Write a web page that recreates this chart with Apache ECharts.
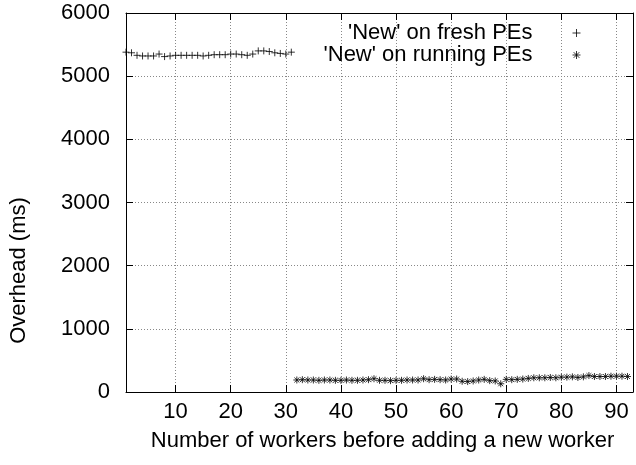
<!DOCTYPE html>
<html><head><meta charset="utf-8">
<script src="https://cdn.jsdelivr.net/npm/echarts@6/dist/echarts.min.js"></script>
<style>html,body{margin:0;padding:0;background:#fff}#c{width:636px;height:465px}</style>
</head><body><div id="c"></div>
<script>
const xTicks = [10, 20, 30, 40, 50, 60, 70, 80, 90];
const yTicks = [0, 1000, 2000, 3000, 4000, 5000, 6000];
const freshWorkers = [1,2,3,4,5,6,7,8,9,10,11,12,13,14,15,16,17,18,19,20,21,22,23,24,25,26,27,28,29,30,31];
const freshOverhead = [5380,5370,5330,5320,5320,5320,5350,5310,5320,5330,5330,5330,5330,5330,5320,5330,5340,5340,5340,5350,5350,5340,5330,5350,5400,5400,5390,5370,5360,5350,5380];
const runningWorkers = [32,33,34,35,36,37,38,39,40,41,42,43,44,45,46,47,48,49,50,51,52,53,54,55,56,57,58,59,60,61,62,63,64,65,66,67,68,69,70,71,72,73,74,75,76,77,78,79,80,81,82,83,84,85,86,87,88,89,90,91,92];
const runningOverhead = [190,195,190,190,185,190,190,185,185,190,185,185,190,195,210,185,185,180,185,185,190,190,190,210,195,200,195,190,205,205,170,165,175,190,200,180,175,130,200,195,200,205,215,225,225,225,230,225,235,235,240,230,240,260,245,245,245,250,250,250,245];
const seriesNames = ["'New' on fresh PEs", "'New' on running PEs"];

const plusPath = 'path://M0,5L10,5M5,0L5,10';
const starPath = 'path://M0,5L10,5M5,0L5,10M1.5,1.5L8.5,8.5M1.5,8.5L8.5,1.5';
const font = 'Liberation Sans';
const fs = 22;
const markStyle = {color: 'none', borderColor: '#000', borderWidth: 1};

function pairs(xs, ys) { return xs.map((x, i) => [x, ys[i]]); }

const chart = echarts.init(document.getElementById('c'), null, {renderer: 'canvas'});
const gridLine = {show: true, lineStyle: {color: '#888', type: [1, 2], width: 1}};
chart.setOption({
  animation: false,
  backgroundColor: '#fff',
  textStyle: {fontFamily: font, color: '#000'},
  grid: {left: 124, right: 3, top: 13, bottom: 73, containLabel: false},
  legend: {
    orient: 'vertical', right: 48, top: 17, align: 'right',
    itemWidth: 8, itemHeight: 8, itemGap: 0,
    textStyle: {fontSize: fs, lineHeight: 21, fontFamily: font, color: '#000', width: 260, align: 'right', padding: [0, 35, 0, 0]},
    data: [{name: seriesNames[0], icon: plusPath, itemStyle: markStyle},
           {name: seriesNames[1], icon: starPath, itemStyle: markStyle}]
  },
  xAxis: [{
    type: 'value', min: 1, max: 93, position: 'bottom',
    name: 'Number of workers before adding a new worker', nameLocation: 'middle', nameGap: 38,
    nameTextStyle: {fontSize: fs, fontFamily: font, color: '#000', padding: [0, 0, 0, 6]},
    axisLine: {show: true, onZero: false, lineStyle: {color: '#000', width: 1}},
    axisTick: {show: true, inside: true, length: 7, customValues: xTicks, lineStyle: {color: '#000'}},
    axisLabel: {show: true, customValues: xTicks, fontSize: fs, margin: 9, color: '#000', fontFamily: font},
    splitLine: gridLine
  }, {
    type: 'value', min: 1, max: 93, position: 'top',
    axisLine: {show: true, onZero: false, lineStyle: {color: '#000', width: 1}},
    axisTick: {show: true, inside: true, length: 7, customValues: xTicks, lineStyle: {color: '#000'}},
    axisLabel: {show: false}, splitLine: {show: false}
  }],
  yAxis: [{
    type: 'value', min: 0, max: 6000, interval: 1000, position: 'left',
    name: 'Overhead (ms)', nameLocation: 'middle', nameGap: 96, nameRotate: 90,
    nameTextStyle: {fontSize: fs, fontFamily: font, color: '#000', padding: [0, 136, 0, 0]},
    axisLine: {show: true, lineStyle: {color: '#000', width: 1}},
    axisTick: {show: true, inside: true, length: 7, customValues: yTicks, lineStyle: {color: '#000'}},
    axisLabel: {fontSize: fs, margin: 16, color: '#000', fontFamily: font, customValues: yTicks, formatter: v => String(v)},
    splitLine: gridLine
  }, {
    type: 'value', min: 0, max: 6000, interval: 1000, position: 'right',
    axisLine: {show: true, lineStyle: {color: '#000', width: 1}},
    axisTick: {show: true, inside: true, length: 7, customValues: yTicks, lineStyle: {color: '#000'}},
    axisLabel: {show: false}, splitLine: {show: false}
  }],
  series: [{
    name: seriesNames[0], type: 'scatter', symbol: plusPath, symbolSize: 7,
    itemStyle: markStyle, data: pairs(freshWorkers, freshOverhead)
  }, {
    name: seriesNames[1], type: 'scatter', symbol: starPath, symbolSize: 7,
    itemStyle: markStyle, data: pairs(runningWorkers, runningOverhead)
  }]
});
</script></body></html>
